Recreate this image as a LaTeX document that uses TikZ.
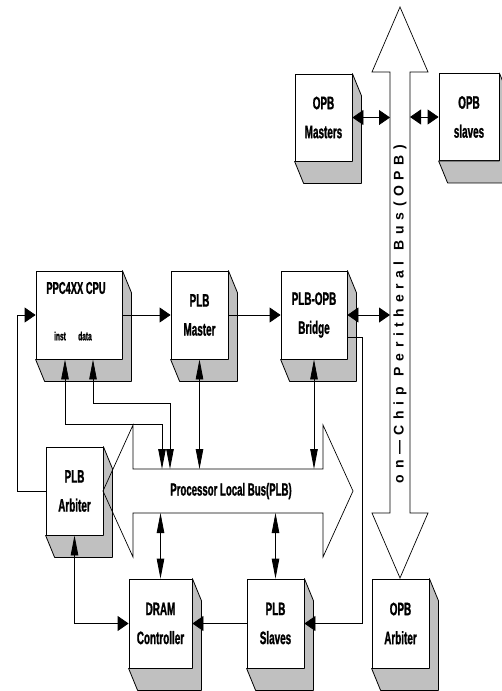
\documentclass[tikz,border=0pt]{standalone}
\usepackage{fontspec}
\newfontfamily\cf[FakeStretch=0.55,FakeBold=1.2]{Liberation Sans}
\newfontfamily\vf{Liberation Sans}
\usetikzlibrary{arrows.meta,calc}
\definecolor{sidegray}{RGB}{192,192,192}
\tikzset{
  ah/.tip={Triangle[length=11pt,width=15pt]},
  av/.tip={Triangle[length=20pt,width=7.5pt]},
  blk/.style={draw=black, line width=0.8pt, fill=white, inner sep=0pt,
    font=\cf\bfseries\fontsize{18}{29}\selectfont, align=center},
  side/.style={draw=black, line width=0.8pt, fill=sidegray, line join=round},
  conn/.style={draw=black, line width=0.8pt},
  hx/.style={conn,-ah}, hh/.style={conn,ah-ah}, vv/.style={conn,av-av}, vh/.style={conn,av-ah},
  bus/.style={draw=black, line width=0.7pt, line join=miter},
  small/.style={font=\cf\bfseries\fontsize{12}{12}\selectfont, inner sep=0pt},
}
\begin{document}
\begin{tikzpicture}[x=1pt,y=-1pt]
\useasboundingbox (0,0) rectangle (501,691);
% boxes (front faces)
\node[blk, minimum width=86pt, minimum height=88pt] (cpu)  at (79,315) {};
\node[blk, minimum width=57pt, minimum height=88pt] (mst)  at (199.5,315) {PLB\\Master};
\node[blk, minimum width=66pt, minimum height=88pt] (brg)  at (314,315) {PLB-OPB\\Bridge};
\node[blk, minimum width=57pt, minimum height=88pt] (arb)  at (74.5,491) {PLB\\Arbiter};
\node[blk, minimum width=63pt, minimum height=89pt] (dram) at (160.5,623.5) {DRAM\\Controller};
\node[blk, minimum width=57pt, minimum height=89pt] (slv)  at (275.5,623.5) {PLB\\Slaves};
\node[blk, minimum width=57pt, minimum height=89pt] (oarb) at (400.5,623.5) {OPB\\Arbiter};
\node[blk, minimum width=57pt, minimum height=87pt] (omst) at (323.5,117.5) {OPB\\Masters};
\node[blk, minimum width=60pt, minimum height=87pt] (oslv) at (469,117) {OPB\\slaves};
% extrusions
\foreach \n in {cpu,mst,brg,arb,dram,slv,oarb,omst,oslv}{
  \filldraw[side] (\n.north east) -- ++(9,22) -- ($(\n.south east)+(9,22)$)
    -- ($(\n.south west)+(9,22)$) -- (\n.south west) -- (\n.south east) -- cycle;
}
% CPU texts
\node[font=\cf\bfseries\fontsize{17}{17}\selectfont, inner sep=0pt] (cput) at (76,288) {PPC4XX CPU};
\node[small] (inst) at (60,336) {inst};
\node[small] (data) at (85,336) {data};
% buses
\draw[bus] (103,491) -- (133,425) -- (133,469) -- (323,469) -- (323,425) -- (353,491)
  -- (323,557) -- (323,513) -- (133,513) -- (133,557) -- cycle;
\draw[bus] (400,7) -- (428,72) -- (410,72) -- (410,513) -- (428,513) -- (400,578)
  -- (372,513) -- (390,513) -- (390,72) -- (372,72) -- cycle;
\coordinate (plbT) at (0,469);
\coordinate (plbB) at (0,513);
\coordinate (opbW) at (390,0);
\coordinate (opbE) at (410,0);
\coordinate (lft) at (17,0);
\coordinate (xi) at (65,0);
\coordinate (xd) at (93,0);
\coordinate (ib) at (162,424);
\coordinate (db) at (170,403);
\node[font=\cf\bfseries\fontsize{17.5}{17.5}\selectfont] (plbt) at (231,491) {Processor Local Bus(PLB)};
\node[rotate=90, font=\vf\bfseries\fontsize{14}{14}\selectfont, inner sep=0pt] (opbt) at (400,314)
  {\hbox to 338pt{o\hfil n\hfil —\hfil C\hfil h\hfil i\hfil p\hfil\hfil P\hfil e\hfil r\hfil i\hfil t\hfil h\hfil e\hfil r\hfil a\hfil l\hfil\hfil B\hfil u\hfil s\hfil (\hfil O\hfil P\hfil B\hfil )}};
% connectors
\draw[hx] (cpu.east) -- (mst.west);
\draw[hx] (mst.east) -- (brg.west);
\draw[hh] (brg.east) -- (brg.east -| opbW);
\draw[hh] (omst.east) -- (omst.east -| opbW);
\draw[hh] (oslv.west) -- (oslv.west -| opbE);
\draw[hx] (arb.west) -- (arb.west -| lft) |- (cpu.west);
\draw[vv] (cpu.south -| xi) |- (ib) -- (ib |- plbT);
\draw[vv] (cpu.south -| xd) |- (db) -- (db |- plbT);
\draw[vv] (mst.south) -- (mst.south |- plbT);
\draw[vv] (brg.south) -- (brg.south |- plbT);
\draw[vv] (plbB -| dram.north) -- (dram.north);
\draw[vv] (plbB -| slv.north) -- (slv.north);
\draw[vh] (arb.south) |- (dram.west);
\draw[hx] (slv.west) -- (dram.east);
\draw[hx] ($(brg.east)+(0,22)$) -- ++(15,0) |- (slv.east);
\end{tikzpicture}
\end{document}
